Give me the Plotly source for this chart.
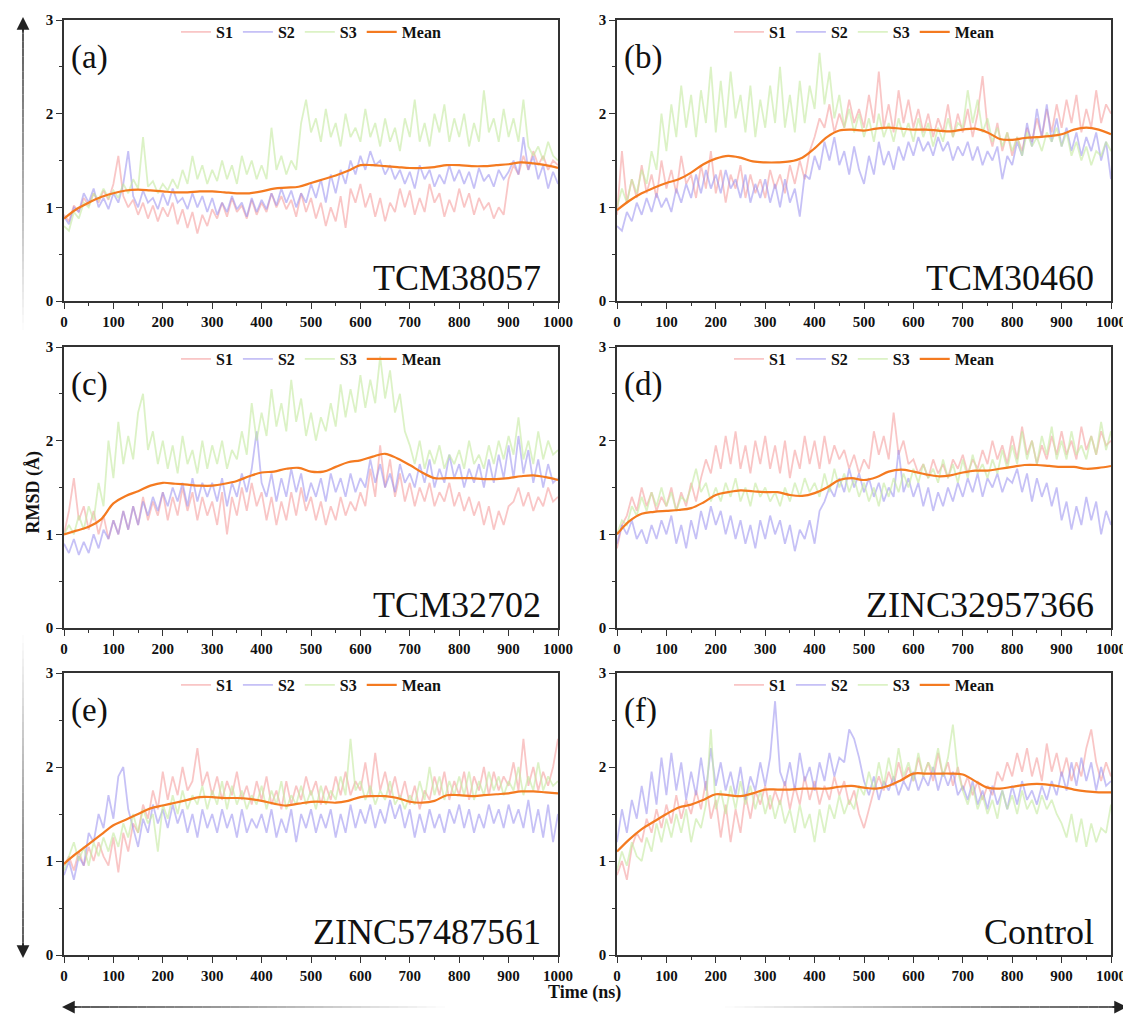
import plotly.graph_objects as go

# the page body has an 8px margin, so the figure is a little smaller than the window
W, H = 1131, 1014
OFF = 8
FW, FH = W - OFF, H - OFF

# time grid (ns) of the runs and of the smoothed mean
t_run = list(range(0, 1001, 10))
t_mean = list(range(0, 1001, 25))

panel_tags = ["(a)", "(b)", "(c)", "(d)", "(e)", "(f)"]
compounds = ["TCM38057", "TCM30460", "TCM32702", "ZINC32957366", "ZINC57487561", "Control"]
series_names = ["S1", "S2", "S3", "Mean"]
x_ticks = [0, 100, 200, 300, 400, 500, 600, 700, 800, 900, 1000]
y_ticks = [0, 1, 2, 3]

# ---- (a) TCM38057
a_s1 = [0.92, 0.85, 1.02, 0.95, 1.10, 1.02, 1.15, 1.05, 1.18, 1.08,
        1.25, 1.55, 1.12, 1.00, 1.08, 0.92, 1.05, 0.88, 1.02, 0.85,
        1.00, 0.90, 1.05, 0.82, 0.98, 0.78, 0.95, 0.72, 0.92, 0.80,
        0.98, 0.88, 1.05, 0.90, 1.10, 0.95, 1.02, 0.88, 1.08, 0.92,
        1.05, 0.95, 1.15, 1.00, 1.12, 0.98, 1.08, 0.90, 1.15, 0.95,
        1.10, 0.88, 1.05, 0.80, 1.00, 0.85, 1.12, 0.78, 1.20, 1.05,
        1.25, 1.00, 1.15, 0.90, 1.10, 0.85, 1.05, 0.95, 1.20, 1.00,
        1.18, 0.92, 1.10, 0.95, 1.25, 1.05, 1.15, 0.90, 1.08, 0.95,
        1.20, 1.00, 1.15, 0.92, 1.10, 0.98, 1.05, 0.88, 1.00, 0.92,
        1.30, 1.45, 1.35, 1.55, 1.40, 1.60, 1.45, 1.55, 1.40, 1.50,
        1.45]
a_s2 = [0.90, 0.82, 1.00, 0.95, 1.15, 1.05, 1.20, 1.00, 1.10, 0.98,
        1.15, 1.05, 1.25, 1.60, 1.12, 1.00, 1.18, 1.05, 1.10, 0.98,
        1.15, 1.02, 1.20, 1.05, 1.10, 0.98, 1.15, 1.00, 1.12, 0.95,
        1.10, 0.92, 1.05, 0.95, 1.12, 0.98, 1.05, 0.90, 1.10, 0.95,
        1.08, 0.98, 1.15, 1.02, 1.20, 1.05, 1.18, 1.00, 1.15, 1.05,
        1.25, 1.10, 1.30, 1.05, 1.35, 1.15, 1.40, 1.25, 1.50, 1.35,
        1.55, 1.40, 1.60, 1.45, 1.50, 1.35, 1.45, 1.30, 1.40, 1.25,
        1.38, 1.20, 1.45, 1.30, 1.40, 1.22, 1.35, 1.25, 1.45, 1.28,
        1.40, 1.25, 1.38, 1.20, 1.42, 1.28, 1.35, 1.22, 1.40, 1.30,
        1.38, 1.50, 1.35, 1.75, 1.40, 1.55, 1.30, 1.45, 1.20, 1.38,
        1.25]
a_s3 = [0.80, 0.75, 0.95, 0.88, 1.05, 1.00, 1.15, 1.08, 1.20, 1.10,
        1.18, 1.10, 1.25, 1.15, 1.30, 1.20, 1.75, 1.22, 1.28, 1.15,
        1.25, 1.18, 1.30, 1.20, 1.40, 1.25, 1.55, 1.30, 1.45, 1.25,
        1.40, 1.28, 1.50, 1.30, 1.45, 1.25, 1.55, 1.35, 1.50, 1.30,
        1.45, 1.30, 1.85, 1.40, 1.55, 1.35, 1.50, 1.40, 1.90, 2.15,
        1.80, 1.95, 1.70, 2.05, 1.75, 1.90, 1.65, 2.00, 1.75, 1.85,
        1.70, 2.05, 1.75, 1.90, 1.65, 1.95, 1.70, 1.85, 1.60, 1.95,
        1.75, 2.15, 1.70, 1.90, 1.65, 2.00, 1.80, 2.10, 1.70, 1.95,
        1.75, 2.00, 1.65, 1.90, 1.70, 2.25, 1.80, 1.95, 1.70, 2.05,
        1.75, 1.95, 1.70, 2.15, 1.65, 1.55, 1.65, 1.50, 1.70, 1.55,
        1.50]
a_mean = [0.88, 0.98, 1.05, 1.11, 1.15, 1.18, 1.19, 1.18, 1.17, 1.16,
          1.16, 1.17, 1.17, 1.16, 1.15, 1.15, 1.17, 1.20, 1.21, 1.22,
          1.26, 1.30, 1.34, 1.39, 1.45, 1.45, 1.44, 1.43, 1.42, 1.42,
          1.43, 1.45, 1.45, 1.44, 1.44, 1.45, 1.46, 1.48, 1.47, 1.45,
          1.42]

# ---- (b) TCM30460
b_s1 = [0.92, 1.60, 1.05, 1.30, 1.10, 1.45, 1.15, 1.35, 1.10, 1.50,
        1.20, 1.40, 1.15, 1.55, 1.25, 1.35, 1.10, 1.45, 1.20, 1.60,
        1.15, 1.40, 1.05, 1.35, 1.20, 1.45, 1.10, 1.35, 1.15, 1.30,
        1.10, 1.40, 1.20, 1.35, 1.15, 1.45, 1.25, 1.50, 1.30, 1.60,
        1.75, 1.95, 1.85, 2.10, 1.80, 2.00, 1.85, 2.15, 1.90, 2.05,
        1.85, 2.20, 1.90, 2.45, 1.85, 2.10, 1.80, 2.25, 1.90, 2.15,
        1.85, 2.05, 1.80, 2.00, 1.75, 1.95, 1.80, 2.10, 1.75, 2.00,
        1.80, 2.05, 1.75, 2.00, 2.40, 1.85, 1.65, 1.90, 1.60, 1.80,
        1.55, 1.75, 1.60, 1.85, 1.70, 1.95, 1.75, 2.05, 1.80, 2.10,
        1.85, 2.15, 1.90, 2.20, 1.80, 2.05, 1.85, 2.25, 1.90, 2.10,
        2.00]
b_s2 = [0.80, 0.75, 0.95, 0.85, 1.05, 0.92, 1.10, 0.95, 1.15, 1.00,
        1.10, 0.95, 1.20, 1.05, 1.25, 1.10, 1.35, 1.15, 1.40, 1.20,
        1.35, 1.15, 1.40, 1.20, 1.30, 1.10, 1.35, 1.05, 1.25, 1.10,
        1.30, 1.05, 1.25, 1.00, 1.30, 1.05, 1.20, 0.90, 1.35, 1.30,
        1.55, 1.40, 1.70, 1.50, 1.75, 1.45, 1.60, 1.35, 1.65, 1.40,
        1.25, 1.55, 1.35, 1.70, 1.45, 1.60, 1.40, 1.65, 1.50, 1.70,
        1.55, 1.75, 1.60, 1.70, 1.55, 1.75, 1.60, 1.70, 1.50, 1.65,
        1.55, 1.70, 1.50, 1.65, 1.45, 1.60, 1.50, 1.65, 1.30, 1.55,
        1.45, 1.70, 1.55, 1.90, 1.65, 2.05, 1.75, 2.10, 1.70, 1.95,
        1.65, 1.85, 1.60, 1.80, 1.55, 1.75, 1.60, 1.80, 1.50, 1.70,
        1.30]
b_s3 = [1.00, 1.20, 1.05, 1.30, 1.15, 1.40, 1.25, 1.60, 1.40, 2.00,
        1.60, 2.10, 1.75, 2.30, 1.85, 2.20, 1.75, 2.25, 1.90, 2.50,
        1.80, 2.35, 1.85, 2.45, 1.95, 2.20, 1.80, 2.30, 1.75, 2.15,
        1.85, 2.30, 1.90, 2.50, 1.85, 2.20, 1.80, 2.35, 1.90, 2.30,
        2.05, 2.65, 2.10, 2.45, 1.95, 2.20, 1.85, 2.05, 1.80, 2.00,
        1.75, 1.95, 1.70, 2.00, 1.75, 1.90, 1.70, 1.95, 1.75, 1.90,
        1.70, 1.95, 1.75, 1.90, 1.65, 1.85, 1.70, 1.95, 1.75, 1.90,
        1.85, 2.25, 1.90, 2.15, 1.80, 1.95, 1.70, 1.85, 1.65, 1.80,
        1.60, 1.75, 1.55, 1.80, 1.65, 1.75, 1.60, 1.80, 1.70, 1.85,
        1.65, 1.80, 1.55, 1.70, 1.50, 1.65, 1.45, 1.60, 1.55, 1.70,
        1.60]
b_mean = [0.97, 1.07, 1.15, 1.21, 1.26, 1.30, 1.37, 1.46, 1.52, 1.55,
          1.53, 1.49, 1.48, 1.48, 1.49, 1.53, 1.63, 1.75, 1.82, 1.83,
          1.82, 1.84, 1.85, 1.84, 1.83, 1.83, 1.82, 1.81, 1.83, 1.84,
          1.80, 1.73, 1.72, 1.74, 1.75, 1.76, 1.78, 1.83, 1.85, 1.83,
          1.78]

# ---- (c) TCM32702
c_s1 = [1.00, 1.25, 1.60, 1.15, 1.30, 1.05, 1.25, 1.00, 1.20, 0.95,
        1.15, 1.00, 1.25, 1.05, 1.30, 1.10, 1.40, 1.15, 1.35, 1.20,
        1.45, 1.15, 1.40, 1.20, 1.50, 1.25, 1.45, 1.15, 1.40, 1.20,
        1.35, 1.10, 1.45, 1.00, 1.40, 1.20, 1.50, 1.25, 1.55, 1.30,
        1.45, 1.15, 1.40, 1.10, 1.35, 1.15, 1.45, 1.20, 1.50, 1.25,
        1.40, 1.15, 1.35, 1.10, 1.30, 1.15, 1.40, 1.20, 1.35, 1.25,
        1.45, 1.30, 1.70, 1.40, 1.95, 1.50, 1.80, 1.40, 1.65, 1.35,
        1.55, 1.30, 1.50, 1.35, 1.55, 1.30, 1.45, 1.35, 1.55, 1.30,
        1.45, 1.25, 1.40, 1.20, 1.35, 1.10, 1.30, 1.05, 1.25, 1.10,
        1.30, 1.35, 1.50, 1.30, 1.45, 1.25, 1.40, 1.30, 1.50, 1.35,
        1.40]
c_s2 = [0.90, 0.80, 0.95, 0.78, 0.92, 0.80, 1.00, 0.85, 1.05, 0.95,
        1.15, 1.00, 1.25, 1.05, 1.30, 1.10, 1.35, 1.20, 1.40, 1.25,
        1.45, 1.30, 1.50, 1.35, 1.55, 1.30, 1.60, 1.35, 1.55, 1.40,
        1.55, 1.35, 1.60, 1.30, 1.55, 1.40, 1.65, 1.45, 1.70, 2.10,
        1.55, 1.40, 1.65, 1.35, 1.60, 1.40, 1.70, 1.45, 1.65, 1.35,
        1.55, 1.40, 1.60, 1.35, 1.65, 1.45, 1.60, 1.40, 1.65, 1.45,
        1.60, 1.50, 1.80, 1.55, 1.75, 1.50, 1.65, 1.45, 1.75, 1.55,
        1.65, 1.50, 1.75, 1.55, 1.80, 1.50, 1.70, 1.55, 1.85, 1.60,
        1.75, 1.50, 1.70, 1.55, 1.75, 1.50, 1.80, 1.55, 1.85, 1.60,
        1.95, 1.60, 2.05, 1.65, 1.90, 1.55, 1.80, 1.50, 1.75, 1.55,
        1.60]
c_s3 = [1.00, 1.10, 1.00, 1.20, 1.05, 1.30, 1.15, 1.55, 1.30, 2.00,
        1.60, 2.20, 1.75, 2.05, 1.80, 2.30, 2.50, 1.90, 2.10, 1.75,
        2.00, 1.70, 1.95, 1.65, 2.05, 1.75, 1.90, 1.65, 2.00, 1.70,
        1.95, 1.75, 2.00, 1.70, 1.90, 1.80, 2.10, 1.85, 2.40, 2.00,
        2.30, 2.05, 2.55, 2.15, 2.40, 2.10, 2.65, 2.20, 2.45, 2.05,
        2.30, 2.00, 2.25, 2.10, 2.40, 2.15, 2.60, 2.25, 2.55, 2.30,
        2.70, 2.35, 2.65, 2.40, 2.90, 2.45, 2.75, 2.30, 2.50, 2.10,
        1.95, 1.75, 2.00, 1.70, 1.90, 1.75, 1.95, 1.70, 1.85, 1.75,
        1.90, 1.70, 2.00, 1.75, 1.85, 1.70, 1.95, 1.75, 2.00, 1.80,
        2.05, 1.85, 2.25, 1.80, 2.00, 1.75, 2.10, 1.80, 2.00, 1.85,
        1.90]
c_mean = [1.00, 1.04, 1.08, 1.16, 1.33, 1.41, 1.46, 1.52, 1.55, 1.54,
          1.53, 1.52, 1.52, 1.54, 1.57, 1.62, 1.66, 1.67, 1.70, 1.71,
          1.67, 1.67, 1.72, 1.77, 1.79, 1.83, 1.86, 1.81, 1.74, 1.66,
          1.60, 1.60, 1.60, 1.60, 1.59, 1.59, 1.60, 1.62, 1.63, 1.61,
          1.58]

# ---- (d) ZINC32957366
d_s1 = [0.85, 1.10, 1.20, 1.40, 1.25, 1.50, 1.30, 1.45, 1.25, 1.40,
        1.30, 1.50, 1.25, 1.45, 1.30, 1.55, 1.35, 1.60, 1.80, 1.65,
        1.95, 1.70, 2.05, 1.75, 2.10, 1.70, 1.95, 1.65, 2.00, 1.75,
        2.05, 1.70, 1.95, 1.65, 2.00, 1.60, 1.90, 1.70, 2.05, 1.75,
        2.00, 1.70, 2.05, 1.75, 1.95, 1.80, 1.90, 1.70, 1.85, 1.65,
        1.80, 1.70, 2.10, 1.85, 2.05, 1.80, 2.30, 1.85, 2.00, 1.75,
        1.80, 1.65, 1.75, 1.60, 1.80, 1.65, 1.75, 1.60, 1.80, 1.70,
        1.85, 1.65, 1.80, 1.70, 1.90, 1.75, 2.00, 1.80, 1.95, 1.75,
        2.05, 1.80, 2.15, 1.85, 2.00, 1.75, 1.95, 1.80, 2.05, 1.85,
        2.10, 1.85, 2.00, 1.80, 2.15, 1.90, 2.05, 1.85, 2.10, 1.95,
        2.00]
d_s2 = [0.90, 1.10, 1.00, 1.15, 0.95, 1.05, 0.90, 1.10, 0.95, 1.15,
        1.00, 1.20, 0.90, 1.10, 0.85, 1.15, 0.95, 1.25, 1.05, 1.30,
        1.10, 1.25, 1.00, 1.20, 0.95, 1.15, 0.90, 1.10, 0.85, 1.15,
        0.95, 1.20, 1.00, 1.15, 0.90, 1.10, 0.82, 1.05, 0.95, 1.15,
        0.90, 1.25, 1.35, 1.50, 1.40, 1.60, 1.45, 1.70, 1.50, 1.65,
        1.45, 1.60, 1.40, 1.55, 1.35, 1.50, 1.40, 1.90, 1.45, 1.60,
        1.40, 1.55, 1.30, 1.50, 1.25, 1.45, 1.30, 1.50, 1.35, 1.55,
        1.40, 1.60, 1.45, 1.65, 1.40, 1.60, 1.50, 1.65, 1.45, 1.60,
        1.55, 1.70, 1.45, 1.65, 1.35, 1.60, 1.40, 1.55, 1.30, 1.50,
        1.15, 1.35, 1.05, 1.30, 1.10, 1.40, 1.15, 1.35, 1.00, 1.25,
        1.10]
d_s3 = [1.00, 1.15, 1.10, 1.30, 1.20, 1.40, 1.25, 1.45, 1.30, 1.50,
        1.30, 1.45, 1.25, 1.40, 1.35, 1.50, 1.70, 1.45, 1.55, 1.35,
        1.50, 1.35, 1.55, 1.40, 1.60, 1.35, 1.50, 1.30, 1.55, 1.40,
        1.50, 1.35, 1.45, 1.30, 1.50, 1.35, 1.55, 1.40, 1.60, 1.45,
        1.55, 1.40, 1.65, 1.45, 1.70, 1.50, 1.65, 1.45, 1.60, 1.40,
        1.55, 1.35, 1.50, 1.30, 1.55, 1.40, 1.60, 1.45, 1.65, 1.50,
        1.70, 1.55, 1.75, 1.60, 1.70, 1.55, 1.80, 1.60, 1.75, 1.55,
        1.80, 1.60, 1.85, 1.65, 1.75, 1.60, 1.80, 1.65, 1.90, 1.70,
        1.95, 1.75, 2.10, 1.80, 2.00, 1.75, 2.05, 1.85, 2.15, 1.80,
        2.00, 1.80, 2.10, 1.85, 1.95, 1.80, 2.05, 1.85, 2.20, 1.90,
        2.10]
d_mean = [1.00, 1.14, 1.22, 1.24, 1.25, 1.26, 1.28, 1.34, 1.42, 1.45,
          1.47, 1.46, 1.45, 1.45, 1.42, 1.41, 1.44, 1.50, 1.58, 1.60,
          1.58, 1.61, 1.67, 1.69, 1.67, 1.64, 1.62, 1.63, 1.66, 1.68,
          1.68, 1.70, 1.72, 1.74, 1.74, 1.73, 1.72, 1.72, 1.70, 1.71,
          1.73]

# ---- (e) ZINC57487561
e_s1 = [0.95, 1.05, 0.90, 1.10, 0.95, 1.15, 1.00, 1.20, 1.05, 0.95,
        1.25, 0.88, 1.30, 1.10, 1.40, 1.30, 1.60, 1.45, 1.75, 1.55,
        1.95, 1.65, 1.90, 1.70, 2.00, 1.75, 1.85, 2.20, 1.80, 1.95,
        1.70, 1.90, 1.65, 1.85, 1.70, 1.95, 1.65, 1.80, 1.60, 1.85,
        1.65, 1.90, 1.60, 1.75, 1.55, 1.85, 1.60, 1.80, 1.65, 1.90,
        1.70, 1.85, 1.60, 1.80, 1.65, 1.90, 1.70, 1.95, 1.70, 1.85,
        1.75, 2.05, 1.70, 2.15, 1.75, 1.95, 1.70, 1.90, 1.65, 1.85,
        1.60, 1.80, 1.55, 1.75, 1.65, 1.90, 1.70, 1.95, 1.65, 1.85,
        1.70, 1.95, 1.65, 1.90, 1.75, 2.00, 1.70, 1.95, 1.75, 1.90,
        1.80, 2.05, 1.75, 2.30, 1.80, 2.00, 1.75, 1.95, 1.80, 2.00,
        2.30]
e_s2 = [0.85, 1.00, 0.80, 1.05, 0.95, 1.30, 1.20, 1.50, 1.35, 1.70,
        1.45, 1.90, 2.00, 1.55, 1.35, 1.15, 1.45, 1.30, 1.60, 1.40,
        1.55, 1.35, 1.60, 1.40, 1.55, 1.30, 1.50, 1.25, 1.55, 1.35,
        1.50, 1.30, 1.55, 1.35, 1.50, 1.25, 1.55, 1.30, 1.45, 1.35,
        1.50, 1.30, 1.55, 1.25, 1.45, 1.30, 1.55, 1.20, 1.50, 1.35,
        1.55, 1.30, 1.50, 1.35, 1.55, 1.25, 1.50, 1.30, 1.60, 1.35,
        1.55, 1.40, 1.60, 1.35, 1.55, 1.40, 1.65, 1.45, 1.60, 1.35,
        1.55, 1.25, 1.50, 1.30, 1.55, 1.35, 1.50, 1.30, 1.55, 1.40,
        1.60, 1.35, 1.55, 1.30, 1.50, 1.35, 1.60, 1.40, 1.55, 1.35,
        1.60, 1.40, 1.55, 1.35, 1.65, 1.30, 1.55, 1.25, 1.60, 1.20,
        1.50]
e_s3 = [0.90, 1.05, 1.20, 1.00, 1.15, 0.95, 1.20, 1.05, 1.25, 1.10,
        1.30, 1.15, 1.40, 1.25, 1.50, 1.30, 1.55, 1.40, 1.50, 1.10,
        1.60, 1.45, 1.70, 1.50, 1.75, 1.55, 1.70, 1.60, 1.80, 1.55,
        1.75, 1.60, 1.85, 1.55, 1.80, 1.60, 1.75, 1.55, 1.70, 1.60,
        1.80, 1.55, 1.75, 1.60, 1.85, 1.55, 1.70, 1.60, 1.80, 1.60,
        1.75, 1.55, 1.80, 1.60, 1.75, 1.65, 1.90, 1.70, 2.30, 1.75,
        1.85, 1.65, 1.80, 1.60, 1.75, 1.65, 1.85, 1.60, 1.70, 1.55,
        1.70, 1.60, 1.85, 1.65, 2.00, 1.70, 1.90, 1.65, 1.85, 1.70,
        1.90, 1.70, 1.95, 1.65, 1.85, 1.70, 1.95, 1.75, 1.90, 1.70,
        1.85, 1.75, 2.00, 1.70, 1.90, 1.75, 2.05, 1.75, 1.90, 1.80,
        1.85]
e_mean = [0.97, 1.08, 1.18, 1.28, 1.38, 1.44, 1.50, 1.56, 1.59, 1.62,
          1.65, 1.68, 1.68, 1.67, 1.67, 1.66, 1.64, 1.61, 1.59, 1.61,
          1.63, 1.63, 1.62, 1.64, 1.68, 1.69, 1.69, 1.67, 1.63, 1.62,
          1.64, 1.70, 1.70, 1.69, 1.70, 1.71, 1.72, 1.74, 1.74, 1.73,
          1.72]

# ---- (f) Control
f_s1 = [0.85, 1.00, 0.80, 1.15, 1.30, 1.20, 1.45, 1.30, 1.55, 1.35,
        1.60, 1.40, 1.70, 1.45, 1.65, 1.50, 1.75, 1.55, 1.85, 1.45,
        1.65, 1.25, 1.60, 1.20, 1.55, 1.30, 1.70, 1.45, 1.75, 1.60,
        1.80, 1.55, 1.75, 1.60, 1.85, 1.55, 1.80, 1.60, 1.90, 1.65,
        1.85, 1.60, 1.80, 1.65, 1.90, 1.70, 1.85, 1.60, 1.75, 1.50,
        1.35, 1.55, 1.75, 1.90, 1.75, 1.95, 1.80, 2.05, 1.85, 2.00,
        1.85, 2.10, 1.90, 2.05, 1.85, 2.15, 1.90, 2.05, 1.80, 2.00,
        1.75, 1.90, 1.70, 1.85, 1.65, 1.80, 1.70, 1.95, 1.85, 2.05,
        1.90, 2.15, 1.95, 2.20, 1.90, 2.10, 1.85, 2.25, 1.95, 2.15,
        1.90, 2.10, 1.85, 2.05, 1.90, 2.20, 2.40, 2.05, 1.85, 2.05,
        1.90]
f_s2 = [1.20, 1.55, 1.30, 1.65, 1.45, 1.80, 1.50, 1.95, 1.60, 2.10,
        1.70, 2.15, 1.75, 2.05, 1.65, 1.95, 1.70, 2.10, 1.75, 2.20,
        1.80, 2.05, 1.75, 1.95, 1.70, 2.00, 1.65, 1.90, 1.75, 2.05,
        1.80, 2.10, 2.70, 1.95, 1.80, 2.05, 1.75, 2.15, 1.85, 2.00,
        1.75, 2.05, 1.85, 2.15, 1.90, 2.10, 2.05, 2.40, 2.30, 2.10,
        1.85, 1.70, 1.90, 1.65, 1.85, 1.75, 1.90, 1.70, 1.85, 1.75,
        1.95, 1.75, 1.90, 1.80, 2.00, 1.75, 1.95, 1.80, 1.95, 1.70,
        1.80, 1.65, 1.85, 1.60, 1.75, 1.55, 1.80, 1.60, 1.75, 1.55,
        1.80, 1.60, 1.85, 1.65, 1.75, 1.60, 1.80, 1.65, 1.85, 1.70,
        1.95, 1.75, 2.05, 1.80, 2.10, 1.85, 2.05, 1.75, 2.00, 1.80,
        1.85]
f_s3 = [0.90, 1.10, 0.95, 1.20, 1.05, 1.00, 1.25, 1.10, 1.40, 1.20,
        1.45, 1.25, 1.50, 1.30, 1.55, 1.20, 1.45, 1.35, 1.60, 2.40,
        1.55, 1.75, 1.50, 1.80, 1.55, 1.85, 1.60, 1.80, 1.55, 1.75,
        1.50, 1.70, 1.45, 1.65, 1.40, 1.55, 1.30, 1.60, 1.35, 1.50,
        1.20, 1.55, 1.30, 1.60, 1.45, 1.70, 1.50, 1.65, 1.55, 1.80,
        1.70, 1.95, 1.75, 2.05, 1.80, 2.10, 1.85, 2.20, 1.90, 2.05,
        1.85, 2.15, 1.90, 2.05, 1.95, 2.20, 1.90, 2.10, 2.45, 1.95,
        1.75, 1.60, 1.80, 1.55, 1.70, 1.50, 1.65, 1.45, 1.75, 1.55,
        1.70, 1.50, 1.75, 1.55, 1.65, 1.50, 1.70, 1.55, 1.65, 1.50,
        1.40, 1.25, 1.50, 1.20, 1.45, 1.15, 1.40, 1.20, 1.35, 1.30,
        1.60]
f_mean = [1.10, 1.23, 1.34, 1.42, 1.50, 1.57, 1.60, 1.65, 1.71, 1.70,
          1.69, 1.72, 1.76, 1.76, 1.76, 1.77, 1.77, 1.77, 1.79, 1.80,
          1.78, 1.77, 1.80, 1.86, 1.93, 1.93, 1.93, 1.93, 1.92, 1.85,
          1.78, 1.77, 1.79, 1.81, 1.82, 1.81, 1.79, 1.76, 1.74, 1.73,
          1.73]

panel_data = [
    (a_s1, a_s2, a_s3, a_mean),
    (b_s1, b_s2, b_s3, b_mean),
    (c_s1, c_s2, c_s3, c_mean),
    (d_s1, d_s2, d_s3, d_mean),
    (e_s1, e_s2, e_s3, e_mean),
    (f_s1, f_s2, f_s3, f_mean),
]

run_colors = ["rgba(244,152,152,0.55)", "rgba(152,142,238,0.55)", "rgba(196,234,160,0.6)"]
mean_color = "#f47a20"
axis_color = "#333333"
serif = "Liberation Serif"

# panel boxes in window pixels: (left, right), (top, bottom)
cols_px = [(64, 558), (617, 1111)]
rows_px = [(20, 301), (347, 628), (673, 955)]


def px(x):
    return (x - OFF) / FW


def py(y):
    return 1 - (y - OFF) / FH


fig = go.Figure()
annotations = []
shapes = []
layout_axes = {}

for i in range(6):
    n = i + 1
    r, c = divmod(i, 2)
    (x0, x1), (y0, y1) = cols_px[c], rows_px[r]
    xa = "x" if n == 1 else f"x{n}"
    ya = "y" if n == 1 else f"y{n}"
    leg = "legend" if n == 1 else f"legend{n}"

    s1, s2, s3, mean = panel_data[i]
    for name, vals, col in zip(series_names[:3], (s1, s2, s3), run_colors):
        fig.add_trace(go.Scatter(
            x=t_run, y=vals, mode="lines", name=name,
            line=dict(color=col, width=1.8),
            xaxis=xa, yaxis=ya, legend=leg,
        ))
    fig.add_trace(go.Scatter(
        x=t_mean, y=mean, mode="lines", name="Mean",
        line=dict(color=mean_color, width=2.2, shape="spline", smoothing=1.0),
        xaxis=xa, yaxis=ya, legend=leg,
    ))

    layout_axes["xaxis" if n == 1 else f"xaxis{n}"] = dict(
        domain=[px(x0), px(x1)], anchor=ya, range=[0, 1000], automargin=False,
        tickvals=x_ticks, ticks="outside", ticklen=6, tickwidth=1.3, tickcolor=axis_color,
        minor=dict(dtick=50, ticks="outside", ticklen=3, tickwidth=1.2, tickcolor=axis_color),
        showline=True, linecolor=axis_color, linewidth=1.5, mirror=True,
        showgrid=False, zeroline=False,
        tickfont=dict(family=serif, size=15, color="#111", weight="bold"),
    )
    layout_axes["yaxis" if n == 1 else f"yaxis{n}"] = dict(
        domain=[py(y1), py(y0)], anchor=xa, range=[0, 3], automargin=False,
        tickvals=y_ticks, ticks="outside", ticklen=6, tickwidth=1.3, tickcolor=axis_color,
        minor=dict(dtick=0.5, ticks="outside", ticklen=3, tickwidth=1.2, tickcolor=axis_color),
        showline=True, linecolor=axis_color, linewidth=1.5, mirror=True,
        showgrid=False, zeroline=False,
        tickfont=dict(family=serif, size=15, color="#111", weight="bold"),
    )
    layout_axes[leg] = dict(
        orientation="h", x=px((x0 + x1) / 2), xanchor="center",
        y=py(y0 - 5), yanchor="top", bgcolor="rgba(0,0,0,0)",
        font=dict(family=serif, size=16, color="#111", weight="bold"),
        itemwidth=30, tracegroupgap=0,
    )

    annotations.append(dict(
        text=panel_tags[i], x=px(x0 + 5), y=py(y0 + 37), xref="paper", yref="paper",
        xanchor="left", yanchor="middle", showarrow=False,
        font=dict(family=serif, size=33, color="#111"),
    ))
    annotations.append(dict(
        text=compounds[i], x=px(x1 - 15), y=py(y1 - 23), xref="paper", yref="paper",
        xanchor="right", yanchor="middle", showarrow=False,
        font=dict(family=serif, size=36, color="#111"),
    ))

# axis titles
annotations.append(dict(
    text="<b>RMSD (Å)</b>", x=px(21), y=py(492), xref="paper", yref="paper",
    textangle=-90, showarrow=False, font=dict(family=serif, size=18, color="#111"),
))
annotations.append(dict(
    text="<b>Time (ns)</b>", x=px(584), y=py(1005), xref="paper", yref="paper",
    showarrow=False, font=dict(family=serif, size=18, color="#111"),
))


# fading guide arrows along the left and bottom edges
def fade_line(xa0, ya0, xa1, ya1, a0, a1, steps=40):
    for k in range(steps):
        f0, f1 = k / steps, (k + 1) / steps
        alpha = a0 + (a1 - a0) * (k + 0.5) / steps
        shapes.append(dict(
            type="line", xref="paper", yref="paper",
            x0=px(xa0 + (xa1 - xa0) * f0), y0=py(ya0 + (ya1 - ya0) * f0),
            x1=px(xa0 + (xa1 - xa0) * f1), y1=py(ya0 + (ya1 - ya0) * f1),
            line=dict(color="#222222", width=1.6), opacity=alpha,
        ))


fade_line(23, 26, 23, 330, 0.95, 0.0)
fade_line(23, 635, 23, 950, 0.0, 0.95)
fade_line(72, 1007, 445, 1007, 0.95, 0.0)
fade_line(725, 1007, 1118, 1007, 0.0, 0.95)

for tx, ty, ax, ay in [(23, 17, 0, 16), (23, 958, 0, -16), (62, 1007, 16, 0), (1127, 1007, -16, 0)]:
    annotations.append(dict(
        x=px(tx), y=py(ty), xref="paper", yref="paper", text="",
        showarrow=True, ax=ax, ay=ay, arrowhead=2, arrowsize=1.7, arrowwidth=1.5,
        arrowcolor="#222222",
    ))

fig.update_layout(
    width=FW, height=FH,
    margin=dict(l=0, r=0, t=0, b=0, autoexpand=False),
    paper_bgcolor="white", plot_bgcolor="white",
    annotations=annotations, shapes=shapes,
    **layout_axes,
)

fig.write_html("out.html")
